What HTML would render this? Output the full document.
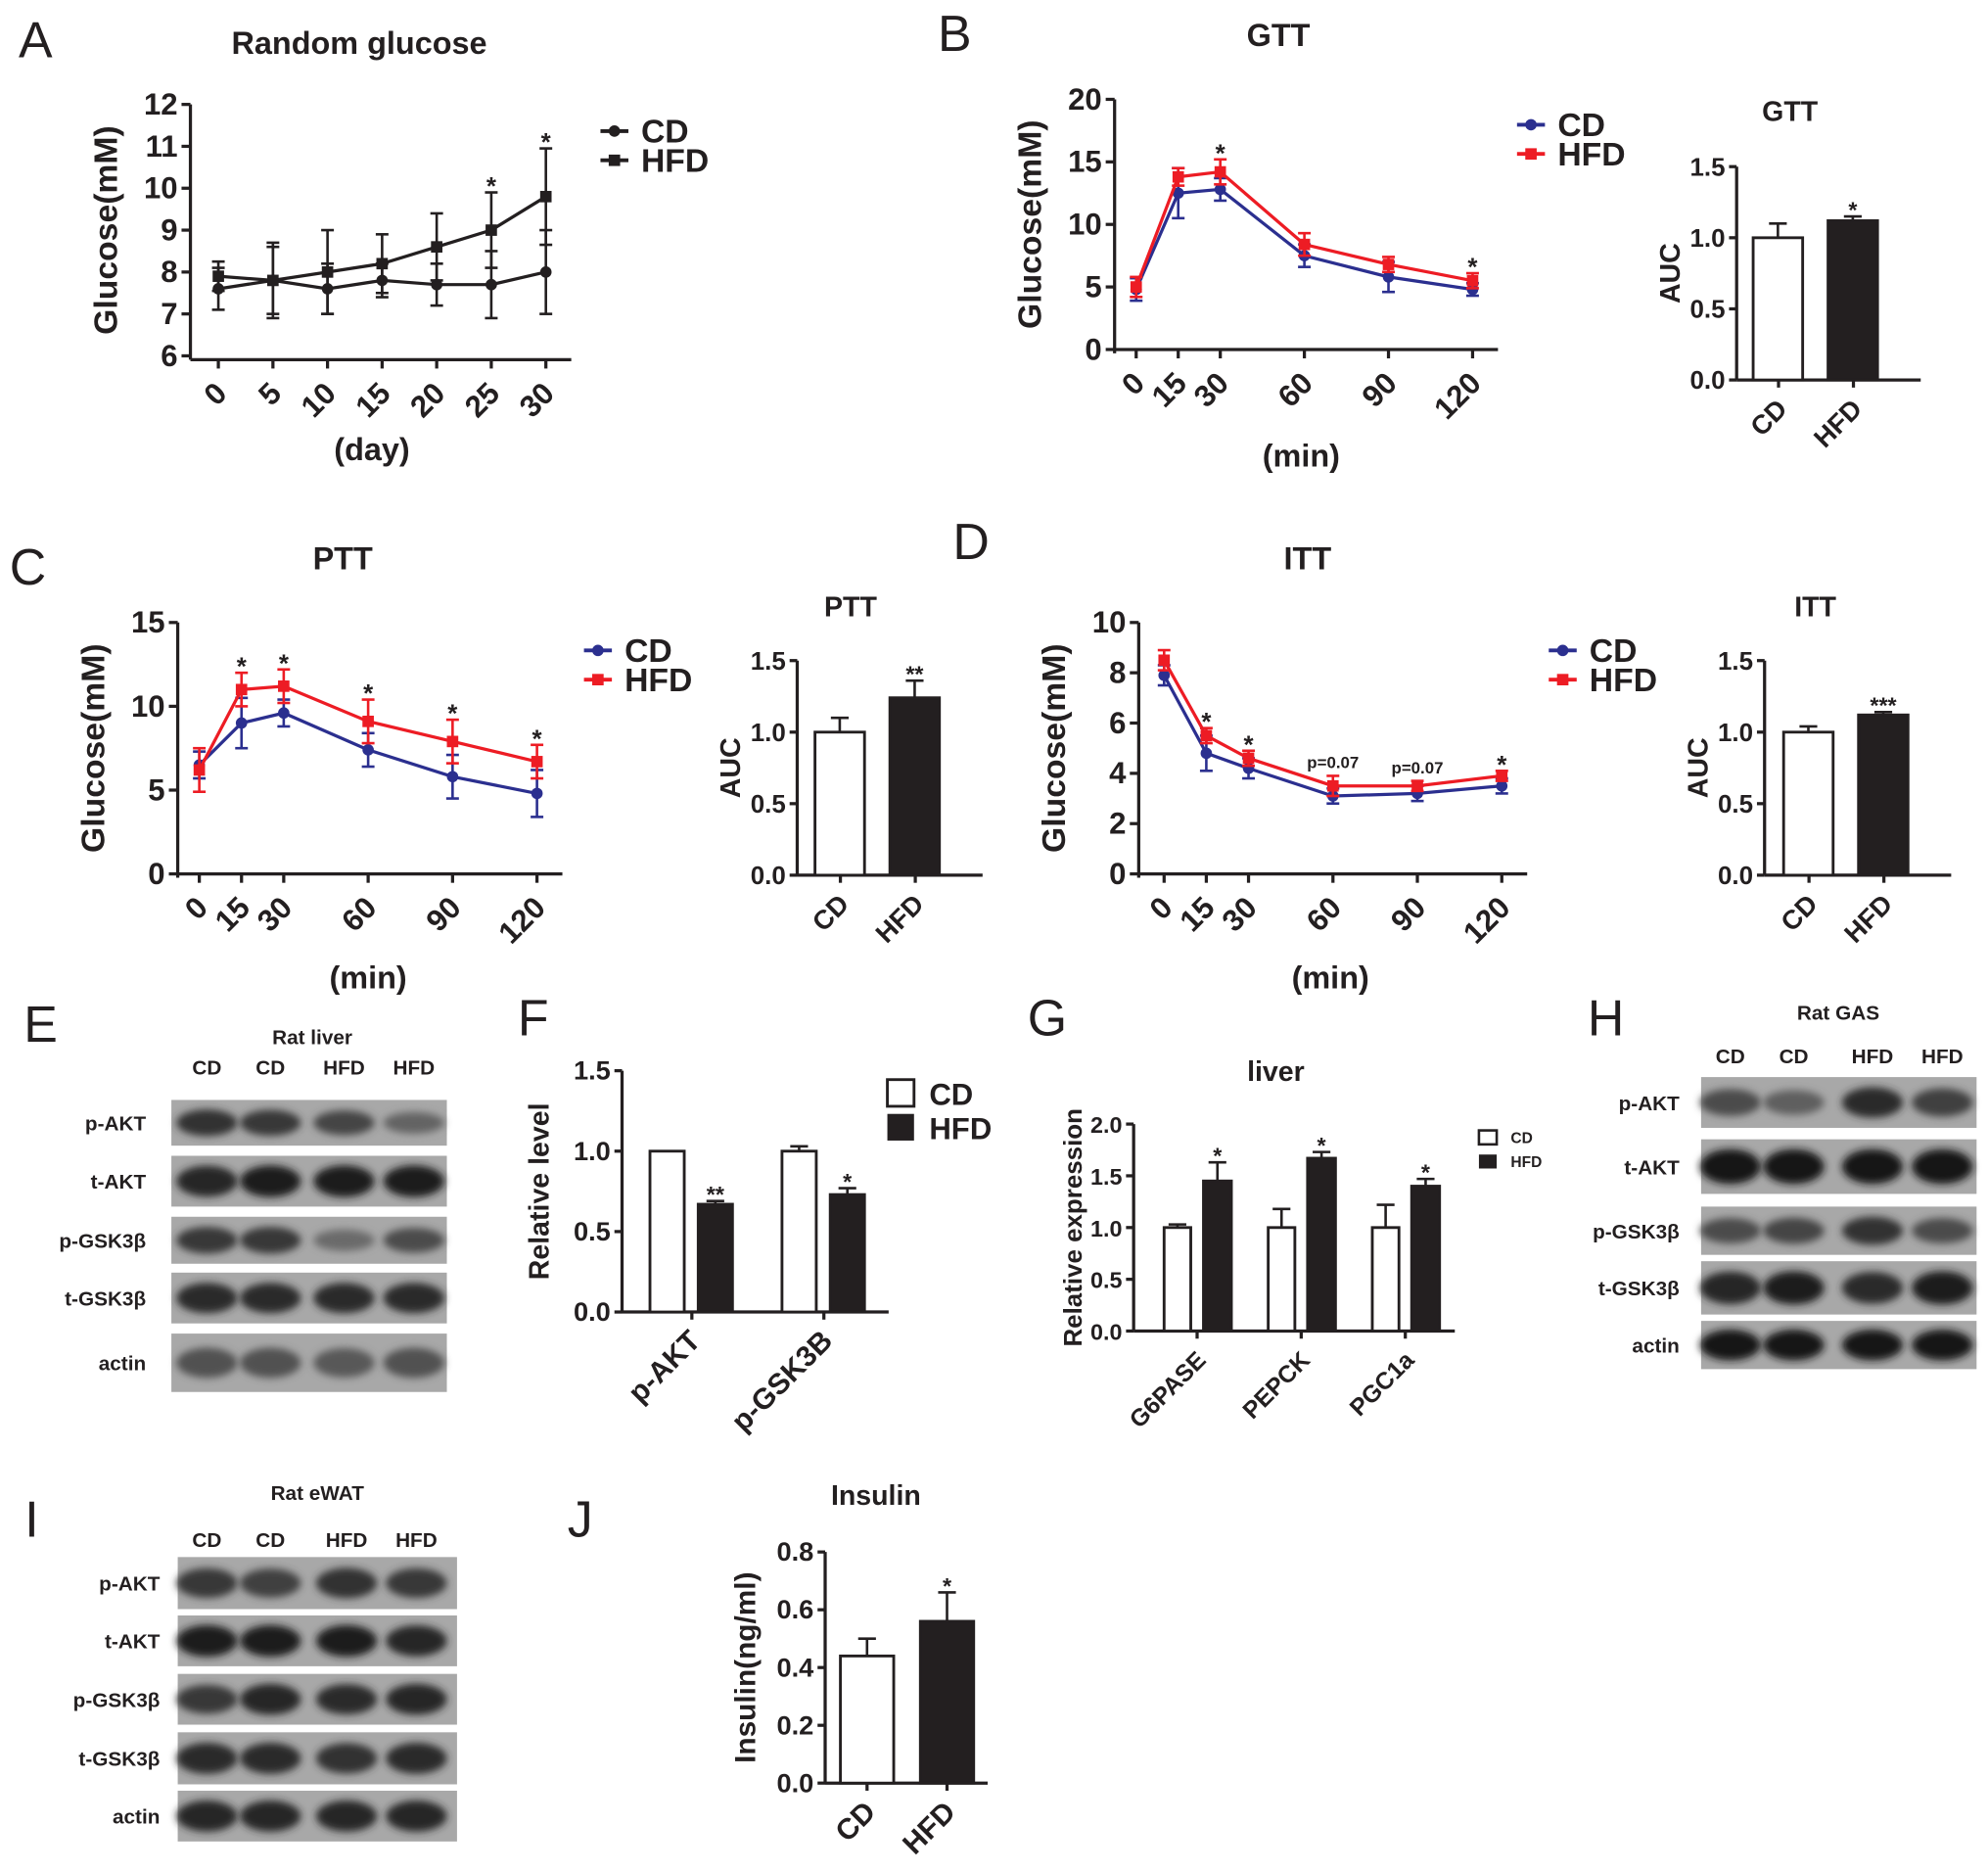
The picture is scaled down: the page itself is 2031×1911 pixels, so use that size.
<!DOCTYPE html>
<html><head><meta charset="utf-8"><style>
html,body{margin:0;padding:0;background:#fff}
svg{display:block}
text{font-family:"Liberation Sans",Arial,sans-serif;font-weight:bold;fill:#231f20}
.pl{font-weight:normal;font-size:40px}
</style></head><body>
<svg id="fig" xmlns="http://www.w3.org/2000/svg" width="2031" height="1911" viewBox="0 0 1566 1473">
<defs><filter id="blur" x="-20%" y="-50%" width="140%" height="200%"><feGaussianBlur stdDeviation="3"/></filter></defs>
<g id="root"></g>
</svg>
<script>
// ---- data ----
const aDays=[0,5,10,15,20,25,30];
const aCD=[7.6,7.8,7.6,7.8,7.7,7.7,8.0];
const aCDerr=[0.5,0.8,0.6,0.4,0.5,0.8,1.0];
const aHFD=[7.9,7.8,8.0,8.2,8.6,9.0,9.8];
const aHFDerr=[0.35,0.9,1.0,0.7,0.8,0.9,1.15];
const aStars=["","","","","","*","*"];
const tMin=[0,15,30,60,90,120];
const gttCD=[4.8,12.5,12.8,7.5,5.8,4.8];
const gttCDerr=[0.9,2.0,0.9,0.9,1.2,0.5];
const gttHFD=[5.0,13.8,14.2,8.4,6.8,5.5];
const gttHFDerr=[0.8,0.7,1.0,0.9,0.6,0.6];
const gttStars=["","","*","","","*"];
const pttCD=[6.5,9.0,9.6,7.4,5.8,4.8];
const pttCDerr=[0.8,1.5,0.8,1.0,1.3,1.4];
const pttHFD=[6.2,11.0,11.2,9.1,7.9,6.7];
const pttHFDerr=[1.3,1.0,1.0,1.3,1.3,1.0];
const pttStars=["","*","*","*","*","*"];
const ittCD=[7.9,4.8,4.2,3.1,3.2,3.5];
const ittCDerr=[0.4,0.7,0.4,0.3,0.3,0.3];
const ittHFD=[8.5,5.5,4.6,3.5,3.5,3.9];
const ittHFDerr=[0.4,0.3,0.3,0.4,0.2,0.2];
const ittStars=["","*","*","p=0.07","p=0.07","*"];
const aucGroups=["CD","HFD"];
const gttAUC=[1.0,1.12]; const gttAUCerr=[0.1,0.03]; const gttAUCstar=["","*"];
const pttAUC=[1.0,1.24]; const pttAUCerr=[0.1,0.12]; const pttAUCstar=["","**"];
const ittAUC=[1.0,1.12]; const ittAUCerr=[0.04,0.02]; const ittAUCstar=["","***"];
const fCats=["p-AKT","p-GSK3B"];
const fCD=[1.0,1.0]; const fCDerr=[0.0,0.03];
const fHFD=[0.67,0.73]; const fHFDerr=[0.02,0.04]; const fStars=["**","*"];
const gCats=["G6PASE","PEPCK","PGC1a"];
const gCD=[1.0,1.0,1.0]; const gCDerr=[0.03,0.18,0.22];
const gHFD=[1.45,1.67,1.4]; const gHFDerr=[0.18,0.06,0.07]; const gStars=["*","*","*"];
const jVals=[0.44,0.56]; const jErr=[0.06,0.1]; const jStars=["","*"];
const blotLanes=["CD","CD","HFD","HFD"];
const eRows=["p-AKT","t-AKT","p-GSK3β","t-GSK3β","actin"];
const eInt=[[0.8,0.75,0.65,0.4],[0.9,0.95,0.95,0.95],[0.75,0.75,0.35,0.6],[0.85,0.85,0.85,0.85],[0.55,0.55,0.5,0.55]];
const hInt=[[0.6,0.45,0.85,0.7],[1,1,1,1],[0.6,0.65,0.8,0.6],[0.9,0.95,0.85,0.95],[1,1,1,1]];
const iInt=[[0.75,0.7,0.8,0.75],[0.95,0.95,0.95,0.9],[0.75,0.9,0.85,0.9],[0.85,0.85,0.8,0.85],[0.9,0.9,0.9,0.9]];

const NS="http://www.w3.org/2000/svg";
const root=document.getElementById('root');
function mk(tag,attrs,parent,txt){const e=document.createElementNS(NS,tag);for(const k in attrs)e.setAttribute(k,attrs[k]);if(txt!==undefined)e.textContent=txt;(parent||root).appendChild(e);return e;}
function T(x,y,s,size,opt){opt=opt||{};const a={x:x,y:y,'font-size':size,'text-anchor':opt.anchor||'middle'};if(opt.rot!==undefined)a.transform='rotate('+opt.rot+' '+x+' '+y+')';if(opt.cls)a['class']=opt.cls;if(opt.fill)a.style='fill:'+opt.fill;const e=mk('text',a,opt.p,s);return e;}
function L(x1,y1,x2,y2,w,c,p){const e=mk('line',{x1:x1,y1:y1,x2:x2,y2:y2,stroke:c||'#231f20','stroke-width':w||2.5},p);return e;}

// panel letters
[["A",28,45],["B",752,40],["C",22,460],["D",765,440],["E",32,820],["F",420,815],["G",825,815],["H",1265,815],["I",25,1210],["J",457,1210]].forEach(l=>{const t=T(l[1],l[2],l[0],40,{cls:'pl',name:'panel-letter-'+l[0].toLowerCase()});t.setAttribute('text-anchor','middle');});

function lineChart(c){
  const g=mk('g',{});
  const ys=v=>c.yBot-(v-c.ymin)/(c.ymax-c.ymin)*(c.yBot-c.yTop);
  const xs=v=>c.x0+(v-c.xs[0])/(c.xs[c.xs.length-1]-c.xs[0])*(c.x1-c.x0);
  L(c.ax,c.yTop,c.ax,c.yBot+3,2.5,null,g);
  L(c.ax,c.axY,c.x1+20,c.axY,2.5,null,g);
  c.yt.forEach(v=>{L(c.ax-7,ys(v),c.ax,ys(v),2.5,null,g);T(c.ax-10,ys(v)+8,String(v),24,{anchor:'end',p:g,name:'y-tick-label'});});
  c.xs.forEach(v=>{L(xs(v),c.axY,xs(v),c.axY+7,2.5,null,g);T(xs(v)+8,c.axY+28,String(v),24,{anchor:'end',rot:-45,p:g,name:'x-tick-label'});});
  T(c.ax-58,(c.yTop+c.yBot)/2,'Glucose(mM)',26,{rot:-90,p:g,name:'y-axis-title'});
  T(c.xlx,c.xly,c.xl,25,{p:g,name:'x-axis-title'});
  T(c.tx,c.ty,c.title,25,{p:g,name:'chart-title'});
  c.series.forEach((s,si)=>{
    const pts=s.v.map((v,i)=>xs(c.xs[i])+','+ys(v)).join(' ');
    const pl=mk('polyline',{points:pts,fill:'none',stroke:s.col,'stroke-width':2.5},g);
    
    s.v.forEach((v,i)=>{const x=xs(c.xs[i]);const e=s.e[i];
      L(x,ys(v-e),x,ys(v+e),2,s.col,g);L(x-5,ys(v-e),x+5,ys(v-e),2,s.col,g);L(x-5,ys(v+e),x+5,ys(v+e),2,s.col,g);
      const m=s.sq?mk('rect',{x:x-4.5,y:ys(v)-4.5,width:9,height:9,fill:s.col},g):mk('circle',{cx:x,cy:ys(v),r:4.5,fill:s.col},g);
      });
  });
  c.stars.forEach((st,i)=>{if(!st)return;const hi=Math.max(...c.series.map(s=>s.v[i]+s.e[i]));const isP=st.length>3;
    T(xs(c.xs[i]),ys(hi)-(isP?6:-2),st,isP?13:20,{p:g,name:'significance-mark'});});
  c.series.forEach((s,si)=>{const y=c.ly+si*23;L(c.lx,y,c.lx+22,y,3,s.col,g);
    if(s.sq)mk('rect',{x:c.lx+6.5,y:y-4.5,width:9,height:9,fill:s.col},g);else mk('circle',{cx:c.lx+11,cy:y,r:4.5,fill:s.col},g);
    T(c.lx+32,y+9,s.key,26,{anchor:'start',p:g,name:'legend-entry'});});
}
const K='#231f20',BL='#2b2f8f',RD='#ed1c24';
lineChart({name:'random-glucose-chart',ax:150,yTop:82,yBot:280,axY:283,ymin:6,ymax:12,yt:[6,7,8,9,10,11,12],x0:172,x1:430,xs:aDays,
 series:[{key:'CD',v:aCD,e:aCDerr,col:K},{key:'HFD',v:aHFD,e:aHFDerr,col:K,sq:true}],stars:aStars,
 title:'Random glucose',tx:283,ty:42,xl:'(day)',xlx:293,xly:362,lx:473,ly:103});
lineChart({name:'gtt-chart',ax:878,yTop:78,yBot:275,axY:275,ymin:0,ymax:20,yt:[0,5,10,15,20],x0:895,x1:1160,xs:tMin,
 series:[{key:'CD',v:gttCD,e:gttCDerr,col:BL},{key:'HFD',v:gttHFD,e:gttHFDerr,col:RD,sq:true}],stars:gttStars,
 title:'GTT',tx:1007,ty:36,xl:'(min)',xlx:1025,xly:367,lx:1195,ly:98});
lineChart({name:'ptt-chart',ax:140,yTop:490,yBot:688,axY:688,ymin:0,ymax:15,yt:[0,5,10,15],x0:157,x1:423,xs:tMin,
 series:[{key:'CD',v:pttCD,e:pttCDerr,col:BL},{key:'HFD',v:pttHFD,e:pttHFDerr,col:RD,sq:true}],stars:pttStars,
 title:'PTT',tx:270,ty:448,xl:'(min)',xlx:290,xly:778,lx:460,ly:512});
lineChart({name:'itt-chart',ax:897,yTop:490,yBot:688,axY:688,ymin:0,ymax:10,yt:[0,2,4,6,8,10],x0:917,x1:1183,xs:tMin,
 series:[{key:'CD',v:ittCD,e:ittCDerr,col:BL},{key:'HFD',v:ittHFD,e:ittHFDerr,col:RD,sq:true}],stars:ittStars,
 title:'ITT',tx:1030,ty:448,xl:'(min)',xlx:1048,xly:778,lx:1220,ly:512});

function barChart(c){
  const g=mk('g',{});
  const ys=v=>c.yBot-v/c.ymax*(c.yBot-c.yTop);
  L(c.ax,c.yTop,c.ax,c.yBot,2.5,null,g);L(c.ax,c.yBot,c.xEnd,c.yBot,2.5,null,g);
  c.yt.forEach(v=>{L(c.ax-6,ys(v),c.ax,ys(v),2.5,null,g);T(c.ax-9,ys(v)+7,v.toFixed(1),c.fs,{anchor:'end',p:g,name:'y-tick-label'});});
  T(c.ylx,(c.yTop+c.yBot)/2,c.yl,c.yfs||22,{rot:-90,p:g,name:'y-axis-title'});
  if(c.title)T(c.tx,c.ty,c.title,22,{p:g,name:'chart-title'});
  c.bars.forEach(b=>{const r=mk('rect',{x:b.x,y:ys(b.v),width:b.w,height:c.yBot-ys(b.v),fill:b.dark?'#231f20':'#fff',stroke:'#231f20','stroke-width':2.2},g);
    
    const cx=b.x+b.w/2;if(b.e>0){L(cx,ys(b.v),cx,ys(b.v+b.e),2,null,g);L(cx-7,ys(b.v+b.e),cx+7,ys(b.v+b.e),2,null,g);}
    if(b.s)T(cx,ys(b.v+b.e)+1,b.s,18,{p:g,name:'significance-mark'});});
  c.cats.forEach(k=>{L(k.x,c.yBot,k.x,c.yBot+6,2.5,null,g);T(k.x+8,c.yBot+24,k.t,c.xfs||21,{anchor:'end',rot:-45,p:g,name:'x-tick-label'});});
}
function aucChart(name,ax,yTop,yBot,x0,vals,errs,stars,title,tx,ty){
  const bars=vals.map((v,i)=>({x:x0+i*59,w:39,v:v,e:errs[i],s:stars[i],dark:i==1,n:aucGroups[i].toLowerCase()}));
  barChart({name:name,ax:ax,yTop:yTop,yBot:yBot,ymax:1.5,yt:[0,0.5,1.0,1.5],xEnd:x0+118+14,fs:20,ylx:ax-45,yl:'AUC',title:title,tx:tx,ty:ty,
    bars:bars,cats:aucGroups.map((k,i)=>({x:x0+20+i*59,t:k}))});
}
aucChart('gtt-auc-chart',1368,131,299,1381,gttAUC,gttAUCerr,gttAUCstar,'GTT',1410,95);
aucChart('ptt-auc-chart',628,520,689,642,pttAUC,pttAUCerr,pttAUCstar,'PTT',670,485);
aucChart('itt-auc-chart',1390,520,689,1405,ittAUC,ittAUCerr,ittAUCstar,'ITT',1430,485);

// F
(function(){const bars=[];const cats=[];fCats.forEach((k,i)=>{const x=512+i*104;
 bars.push({x:x,w:27,v:fCD[i],e:fCDerr[i],n:'cd-'+k.toLowerCase()});bars.push({x:x+38,w:27,v:fHFD[i],e:fHFDerr[i],s:fStars[i],dark:true,n:'hfd-'+k.toLowerCase()});cats.push({x:x+33,t:k});});
 barChart({name:'relative-level-chart',ax:490,yTop:843,yBot:1033,ymax:1.5,yt:[0,0.5,1.0,1.5],xEnd:700,fs:21,ylx:432,yl:'Relative level',bars:bars,cats:cats,xfs:23});
 mk('rect',{x:699,y:850,width:21,height:21,fill:'#fff',stroke:'#231f20','stroke-width':2.2});mk('rect',{x:699,y:877,width:21,height:21,fill:'#231f20'});
 T(732,870,'CD',24,{anchor:'start',name:'legend-entry'});T(732,897,'HFD',24,{anchor:'start',name:'legend-entry'});})();
// G
(function(){const bars=[];const cats=[];gCats.forEach((k,i)=>{const x=917+i*82;
 bars.push({x:x,w:21,v:gCD[i],e:gCDerr[i],n:'cd-'+k.toLowerCase()});bars.push({x:x+31,w:22,v:gHFD[i],e:gHFDerr[i],s:gStars[i],dark:true,n:'hfd-'+k.toLowerCase()});cats.push({x:x+26,t:k});});
 barChart({name:'liver-expression-chart',ax:893,yTop:885,yBot:1048,ymax:2.0,yt:[0,0.5,1.0,1.5,2.0],xEnd:1146,fs:18,ylx:852,yl:'Relative expression',yfs:20,title:'liver',tx:1005,ty:851,bars:bars,cats:cats,xfs:19});
 mk('rect',{x:1165,y:890,width:14,height:11,fill:'#fff',stroke:'#231f20','stroke-width':2});mk('rect',{x:1165,y:909,width:14,height:11,fill:'#231f20'});
 T(1190,900,'CD',12,{anchor:'start',name:'legend-entry'});T(1190,919,'HFD',12,{anchor:'start',name:'legend-entry'});})();
// J
barChart({name:'insulin-chart',ax:650,yTop:1222,yBot:1404,ymax:0.8,yt:[0,0.2,0.4,0.6,0.8],xEnd:778,fs:21,ylx:595,yl:'Insulin(ng/ml)',yfs:23,title:'Insulin',tx:690,ty:1185,
 bars:jVals.map((v,i)=>({x:662+i*63,w:42,v:v,e:jErr[i],s:jStars[i],dark:i==1,n:aucGroups[i].toLowerCase()})),cats:aucGroups.map((k,i)=>({x:683+i*63,t:k})),xfs:23});

// blots
function blot(name,title,tx,ty,laneX,laneY,bx,bw,rows,labelX,ints){
 const g=mk('g',{});
 T(tx,ty,title,16,{p:g,name:'blot-title'});
 blotLanes.forEach((l,i)=>T(laneX[i],laneY,l,16,{p:g,name:'lane-label'}));
 rows.forEach((r,ri)=>{const h=r[1]-r[0];const rb=mk('rect',{x:bx,y:r[0],width:bw,height:h,fill:'#a8a8a8'},g);
  
  ints[ri].forEach((v,li)=>{const c=Math.round(150-v*125);mk('ellipse',{cx:laneX[li],cy:r[0]+h/2,rx:24,ry:Math.max(4,h*0.18+v*h*0.14),fill:'rgb('+c+','+c+','+c+')',filter:'url(#blur)'},g);});
  T(labelX,r[0]+h/2+6,eRows[ri],16,{anchor:'end',p:g,name:'blot-row-label'});});
}
blot('liver-western-blot','Rat liver',246,822,[163,213,271,326],846,135,217,[[866,902],[910,950],[958,995],[1002,1042],[1050,1096]],115,eInt);
blot('gas-western-blot','Rat GAS',1448,803,[1363,1413,1475,1530],837,1340,217,[[848,888],[897,940],[950,988],[993,1035],[1040,1078]],1323,hInt);
blot('ewat-western-blot','Rat  eWAT',250,1181,[163,213,273,328],1218,140,220,[[1226,1267],[1272,1312],[1318,1358],[1364,1405],[1410,1450]],126,iInt);
</script>
</body></html>
